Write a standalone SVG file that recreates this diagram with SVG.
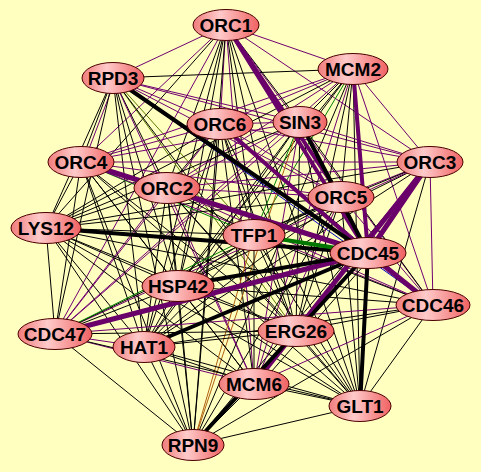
<svg xmlns="http://www.w3.org/2000/svg" width="481" height="472" viewBox="0 0 481 472">
<defs>
<linearGradient id="ng" x1="0" y1="0" x2="1" y2="0">
<stop offset="0" stop-color="#f07c7c"/>
<stop offset="0.4" stop-color="#ffcaca"/>
<stop offset="1" stop-color="#f06262"/>
</linearGradient>
</defs>
<style>
line{fill:none;stroke-linecap:round}
.k{stroke:#000;stroke-width:1}
.p{stroke:#700070;stroke-width:1}
.g{stroke:#008000;stroke-width:1}
.o{stroke:#5a7a00;stroke-width:1}
.b{stroke:#0000c0;stroke-width:1}
.br{stroke:#b06010;stroke-width:1}
.tp{stroke:#6a006a;stroke-width:5}
.tp4{stroke:#6a006a;stroke-width:4}
.tk{stroke:#000;stroke-width:4}
.tg{stroke:#007800;stroke-width:4}
.n ellipse{fill:url(#ng);stroke:#4a0000;stroke-width:1}
.n text{font-family:"Liberation Sans",Arial,sans-serif;font-weight:bold;font-size:19px;text-anchor:middle;fill:#000}
</style>
<rect width="481" height="472" fill="#ffffc0"/>
<g id="edges">
<line class="p" x1="226" y1="25" x2="113" y2="78"/>
<line class="p" x1="226" y1="25" x2="353" y2="69"/>
<line class="p" x1="226" y1="25" x2="220" y2="124"/>
<line class="k" x1="226" y1="25" x2="300" y2="122"/>
<line class="p" x1="226" y1="25" x2="81" y2="162"/>
<line class="p" x1="226" y1="25" x2="430" y2="162"/>
<line class="k" x1="226" y1="25" x2="167" y2="188"/>
<line class="k" x1="226" y1="25" x2="46" y2="228"/>
<line class="k" x1="226" y1="25" x2="254" y2="235"/>
<line class="k" x1="226" y1="25" x2="178" y2="286"/>
<line class="p" x1="226" y1="25" x2="433" y2="305"/>
<line class="k" x1="226" y1="25" x2="296" y2="331"/>
<line class="p" x1="226" y1="25" x2="55" y2="334"/>
<line class="k" x1="226" y1="25" x2="144" y2="347"/>
<line class="p" x1="226" y1="25" x2="254" y2="384"/>
<line class="k" x1="226" y1="25" x2="360" y2="406"/>
<line class="k" x1="226" y1="25" x2="193" y2="445"/>
<line class="k" x1="113" y1="78" x2="353" y2="69"/>
<line class="p" x1="113" y1="78" x2="220" y2="124"/>
<line class="p" x1="113" y1="78" x2="300" y2="122"/>
<line class="k" x1="113" y1="78" x2="81" y2="162"/>
<line class="p" x1="116" y1="78" x2="84" y2="162"/>
<line class="p" x1="113" y1="78" x2="430" y2="162"/>
<line class="k" x1="113" y1="78" x2="167" y2="188"/>
<line class="p" x1="113" y1="78" x2="341" y2="197"/>
<line class="k" x1="113" y1="78" x2="46" y2="228"/>
<line class="o" x1="113" y1="78" x2="254" y2="235"/>
<line class="k" x1="113" y1="78" x2="178" y2="286"/>
<line class="b" x1="113" y1="78" x2="433" y2="305"/>
<line class="o" x1="113" y1="78" x2="296" y2="331"/>
<line class="k" x1="113" y1="78" x2="55" y2="334"/>
<line class="k" x1="113" y1="78" x2="144" y2="347"/>
<line class="p" x1="113" y1="78" x2="254" y2="384"/>
<line class="k" x1="113" y1="78" x2="360" y2="406"/>
<line class="k" x1="113" y1="78" x2="193" y2="445"/>
<line class="p" x1="353" y1="69" x2="220" y2="124"/>
<line class="k" x1="353" y1="69" x2="300" y2="122"/>
<line class="p" x1="353" y1="69" x2="81" y2="162"/>
<line class="p" x1="353" y1="69" x2="430" y2="162"/>
<line class="p" x1="353" y1="69" x2="167" y2="188"/>
<line class="k" x1="353" y1="69" x2="341" y2="197"/>
<line class="k" x1="353" y1="69" x2="46" y2="228"/>
<line class="g" x1="353" y1="69" x2="254" y2="235"/>
<line class="k" x1="353" y1="69" x2="178" y2="286"/>
<line class="p" x1="353" y1="69" x2="433" y2="305"/>
<line class="k" x1="353" y1="69" x2="296" y2="331"/>
<line class="p" x1="353" y1="69" x2="55" y2="334"/>
<line class="k" x1="353" y1="69" x2="144" y2="347"/>
<line class="p" x1="353" y1="69" x2="254" y2="384"/>
<line class="k" x1="353" y1="69" x2="360" y2="406"/>
<line class="k" x1="353" y1="69" x2="193" y2="445"/>
<line class="p" x1="220" y1="124" x2="300" y2="122"/>
<line class="p" x1="220" y1="124" x2="81" y2="162"/>
<line class="p" x1="220" y1="124" x2="430" y2="162"/>
<line class="k" x1="220" y1="124" x2="167" y2="188"/>
<line class="p" x1="220" y1="124" x2="341" y2="197"/>
<line class="k" x1="220" y1="124" x2="46" y2="228"/>
<line class="k" x1="220" y1="124" x2="254" y2="235"/>
<line class="k" x1="220" y1="124" x2="178" y2="286"/>
<line class="p" x1="220" y1="124" x2="433" y2="305"/>
<line class="k" x1="220" y1="124" x2="296" y2="331"/>
<line class="p" x1="220" y1="124" x2="55" y2="334"/>
<line class="k" x1="220" y1="124" x2="144" y2="347"/>
<line class="k" x1="220" y1="124" x2="254" y2="384"/>
<line class="k" x1="220" y1="124" x2="360" y2="406"/>
<line class="k" x1="220" y1="124" x2="193" y2="445"/>
<line class="p" x1="300" y1="122" x2="81" y2="162"/>
<line class="p" x1="300" y1="122" x2="430" y2="162"/>
<line class="p" x1="300" y1="122" x2="167" y2="188"/>
<line class="k" x1="300" y1="122" x2="341" y2="197"/>
<line class="k" x1="300" y1="122" x2="46" y2="228"/>
<line class="g" x1="300" y1="122" x2="254" y2="235"/>
<line class="k" x1="300" y1="122" x2="178" y2="286"/>
<line class="k" x1="300" y1="122" x2="433" y2="305"/>
<line class="k" x1="300" y1="122" x2="296" y2="331"/>
<line class="p" x1="300" y1="122" x2="55" y2="334"/>
<line class="k" x1="300" y1="122" x2="144" y2="347"/>
<line class="p" x1="300" y1="122" x2="254" y2="384"/>
<line class="k" x1="300" y1="122" x2="360" y2="406"/>
<line class="br" x1="300" y1="122" x2="193" y2="445"/>
<line class="p" x1="81" y1="162" x2="430" y2="162"/>
<line class="k" x1="81" y1="162" x2="167" y2="188"/>
<line class="p" x1="81" y1="162" x2="341" y2="197"/>
<line class="k" x1="81" y1="162" x2="46" y2="228"/>
<line class="g" x1="81" y1="162" x2="254" y2="235"/>
<line class="k" x1="81" y1="162" x2="178" y2="286"/>
<line class="p" x1="81" y1="162" x2="433" y2="305"/>
<line class="k" x1="81" y1="162" x2="296" y2="331"/>
<line class="k" x1="81" y1="162" x2="55" y2="334"/>
<line class="k" x1="81" y1="162" x2="144" y2="347"/>
<line class="k" x1="81" y1="162" x2="254" y2="384"/>
<line class="k" x1="81" y1="162" x2="360" y2="406"/>
<line class="k" x1="81" y1="162" x2="193" y2="445"/>
<line class="p" x1="430" y1="162" x2="167" y2="188"/>
<line class="p" x1="430" y1="162" x2="341" y2="197"/>
<line class="k" x1="430" y1="162" x2="46" y2="228"/>
<line class="k" x1="430" y1="162" x2="254" y2="235"/>
<line class="k" x1="430" y1="162" x2="178" y2="286"/>
<line class="p" x1="430" y1="162" x2="433" y2="305"/>
<line class="k" x1="430" y1="162" x2="296" y2="331"/>
<line class="p" x1="430" y1="162" x2="55" y2="334"/>
<line class="k" x1="430" y1="162" x2="144" y2="347"/>
<line class="k" x1="430" y1="162" x2="360" y2="406"/>
<line class="k" x1="430" y1="162" x2="193" y2="445"/>
<line class="p" x1="167" y1="188" x2="341" y2="197"/>
<line class="k" x1="167" y1="188" x2="46" y2="228"/>
<line class="k" x1="167" y1="188" x2="254" y2="235"/>
<line class="k" x1="167" y1="188" x2="178" y2="286"/>
<line class="p" x1="167" y1="188" x2="433" y2="305"/>
<line class="k" x1="167" y1="188" x2="296" y2="331"/>
<line class="p" x1="167" y1="188" x2="55" y2="334"/>
<line class="k" x1="167" y1="188" x2="144" y2="347"/>
<line class="p" x1="167" y1="188" x2="254" y2="384"/>
<line class="k" x1="167" y1="188" x2="360" y2="406"/>
<line class="k" x1="167" y1="188" x2="193" y2="445"/>
<line class="k" x1="341" y1="197" x2="46" y2="228"/>
<line class="k" x1="341" y1="197" x2="254" y2="235"/>
<line class="p" x1="341" y1="197" x2="368" y2="253"/>
<line class="k" x1="341" y1="197" x2="178" y2="286"/>
<line class="p" x1="341" y1="197" x2="433" y2="305"/>
<line class="k" x1="341" y1="197" x2="296" y2="331"/>
<line class="k" x1="341" y1="197" x2="55" y2="334"/>
<line class="k" x1="341" y1="197" x2="144" y2="347"/>
<line class="p" x1="341" y1="197" x2="254" y2="384"/>
<line class="k" x1="341" y1="197" x2="360" y2="406"/>
<line class="k" x1="341" y1="197" x2="193" y2="445"/>
<line class="k" x1="46" y1="228" x2="254" y2="235"/>
<line class="k" x1="46" y1="228" x2="178" y2="286"/>
<line class="k" x1="46" y1="228" x2="433" y2="305"/>
<line class="k" x1="46" y1="228" x2="296" y2="331"/>
<line class="k" x1="46" y1="228" x2="55" y2="334"/>
<line class="k" x1="46" y1="228" x2="144" y2="347"/>
<line class="k" x1="46" y1="228" x2="254" y2="384"/>
<line class="k" x1="46" y1="228" x2="360" y2="406"/>
<line class="k" x1="46" y1="228" x2="193" y2="445"/>
<line class="k" x1="254" y1="235" x2="178" y2="286"/>
<line class="k" x1="254" y1="235" x2="433" y2="305"/>
<line class="k" x1="254" y1="235" x2="296" y2="331"/>
<line class="g" x1="254" y1="235" x2="55" y2="334"/>
<line class="k" x1="254" y1="235" x2="144" y2="347"/>
<line class="k" x1="254" y1="235" x2="254" y2="384"/>
<line class="k" x1="254" y1="235" x2="360" y2="406"/>
<line class="br" x1="254" y1="235" x2="193" y2="445"/>
<line class="k" x1="368" y1="253" x2="296" y2="331"/>
<line class="k" x1="372" y1="256" x2="258" y2="387"/>
<line class="k" x1="178" y1="286" x2="433" y2="305"/>
<line class="k" x1="178" y1="286" x2="296" y2="331"/>
<line class="k" x1="178" y1="286" x2="55" y2="334"/>
<line class="k" x1="178" y1="286" x2="144" y2="347"/>
<line class="k" x1="178" y1="286" x2="254" y2="384"/>
<line class="k" x1="178" y1="286" x2="360" y2="406"/>
<line class="k" x1="178" y1="286" x2="193" y2="445"/>
<line class="k" x1="433" y1="305" x2="296" y2="331"/>
<line class="p" x1="433" y1="305" x2="55" y2="334"/>
<line class="k" x1="433" y1="305" x2="144" y2="347"/>
<line class="p" x1="433" y1="305" x2="254" y2="384"/>
<line class="k" x1="433" y1="305" x2="360" y2="406"/>
<line class="k" x1="433" y1="305" x2="193" y2="445"/>
<line class="k" x1="296" y1="331" x2="55" y2="334"/>
<line class="k" x1="296" y1="331" x2="144" y2="347"/>
<line class="k" x1="296" y1="331" x2="254" y2="384"/>
<line class="k" x1="296" y1="331" x2="360" y2="406"/>
<line class="k" x1="296" y1="331" x2="193" y2="445"/>
<line class="p" x1="55" y1="334" x2="144" y2="347"/>
<line class="p" x1="55" y1="334" x2="254" y2="384"/>
<line class="k" x1="55" y1="334" x2="360" y2="406"/>
<line class="k" x1="55" y1="334" x2="193" y2="445"/>
<line class="k" x1="144" y1="347" x2="254" y2="384"/>
<line class="k" x1="144" y1="347" x2="360" y2="406"/>
<line class="k" x1="144" y1="347" x2="193" y2="445"/>
<line class="k" x1="254" y1="384" x2="360" y2="406"/>
<line class="k" x1="254" y1="384" x2="193" y2="445"/>
<line class="k" x1="360" y1="406" x2="193" y2="445"/>
<line class="tp4" x1="226" y1="25" x2="368" y2="253"/>
<line class="tp4" x1="226" y1="25" x2="341" y2="197"/>
<line class="tp4" x1="353" y1="69" x2="368" y2="253"/>
<line class="tp" x1="430" y1="162" x2="368" y2="253"/>
<line class="tp" x1="430" y1="162" x2="254" y2="384"/>
<line class="tp" x1="81" y1="162" x2="368" y2="253"/>
<line class="tp4" x1="220" y1="124" x2="368" y2="253"/>
<line class="tp" x1="55" y1="334" x2="368" y2="253"/>
<line class="tp" x1="368" y1="253" x2="433" y2="305"/>
<line class="tk" x1="113" y1="78" x2="368" y2="253"/>
<line class="tk" x1="300" y1="122" x2="368" y2="253"/>
<line class="tk" x1="46" y1="228" x2="368" y2="253"/>
<line class="tk" x1="178" y1="286" x2="368" y2="253"/>
<line class="tk" x1="144" y1="347" x2="368" y2="253"/>
<line class="tk" x1="193" y1="445" x2="368" y2="253"/>
<line class="tk" x1="360" y1="406" x2="368" y2="253"/>
<line class="tg" x1="254" y1="235" x2="368" y2="253"/>
</g>
<g id="ORC1" class="n"><ellipse cx="226" cy="25" rx="33" ry="15.5"/><text x="226" y="32">ORC1</text></g>
<g id="RPD3" class="n"><ellipse cx="113" cy="78" rx="31" ry="15.5"/><text x="113" y="85">RPD3</text></g>
<g id="MCM2" class="n"><ellipse cx="353" cy="69" rx="35" ry="15.5"/><text x="353" y="76">MCM2</text></g>
<g id="ORC6" class="n"><ellipse cx="220" cy="124" rx="33" ry="15.5"/><text x="220" y="131">ORC6</text></g>
<g id="SIN3" class="n"><ellipse cx="300" cy="122" rx="27" ry="15.5"/><text x="300" y="129">SIN3</text></g>
<g id="ORC4" class="n"><ellipse cx="81" cy="162" rx="33" ry="15.5"/><text x="81" y="169">ORC4</text></g>
<g id="ORC3" class="n"><ellipse cx="430" cy="162" rx="33" ry="15.5"/><text x="430" y="169">ORC3</text></g>
<g id="ORC2" class="n"><ellipse cx="167" cy="188" rx="33" ry="15.5"/><text x="167" y="195">ORC2</text></g>
<g id="ORC5" class="n"><ellipse cx="341" cy="197" rx="33" ry="15.5"/><text x="341" y="204">ORC5</text></g>
<g id="LYS12" class="n"><ellipse cx="46" cy="228" rx="35" ry="15.5"/><text x="46" y="235">LYS12</text></g>
<g id="TFP1" class="n"><ellipse cx="254" cy="235" rx="31" ry="15.5"/><text x="254" y="242">TFP1</text></g>
<g id="CDC45" class="n"><ellipse cx="368" cy="253" rx="38" ry="15.5"/><text x="368" y="260">CDC45</text></g>
<g id="HSP42" class="n"><ellipse cx="178" cy="286" rx="36" ry="15.5"/><text x="178" y="293">HSP42</text></g>
<g id="CDC46" class="n"><ellipse cx="433" cy="305" rx="37" ry="15.5"/><text x="433" y="312">CDC46</text></g>
<g id="ERG26" class="n"><ellipse cx="296" cy="331" rx="38" ry="15.5"/><text x="296" y="338">ERG26</text></g>
<g id="CDC47" class="n"><ellipse cx="55" cy="334" rx="37" ry="15.5"/><text x="55" y="341">CDC47</text></g>
<g id="HAT1" class="n"><ellipse cx="144" cy="347" rx="31" ry="15.5"/><text x="144" y="354">HAT1</text></g>
<g id="MCM6" class="n"><ellipse cx="254" cy="384" rx="35" ry="15.5"/><text x="254" y="391">MCM6</text></g>
<g id="GLT1" class="n"><ellipse cx="360" cy="406" rx="31" ry="15.5"/><text x="360" y="413">GLT1</text></g>
<g id="RPN9" class="n"><ellipse cx="193" cy="445" rx="31" ry="15.5"/><text x="193" y="452">RPN9</text></g>
</svg>
